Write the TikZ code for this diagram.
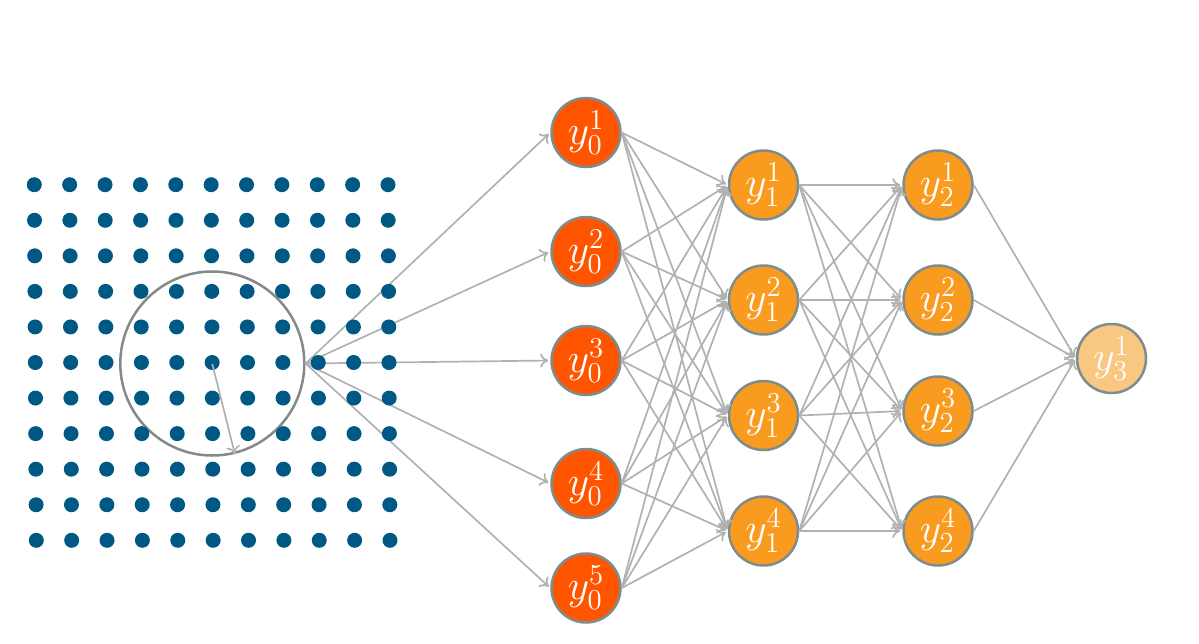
\documentclass[tikz,border=0pt]{standalone}
\usetikzlibrary{arrows.meta}
\definecolor{inputc}{HTML}{FF5500}
\definecolor{hidc}{HTML}{F99B1F}
\definecolor{outc}{HTML}{F8C882}
\definecolor{nodegray}{HTML}{7F8C8D}
\definecolor{edgegray}{HTML}{B0B2B2}
\definecolor{dotblue}{HTML}{005984}
\definecolor{ringgray}{HTML}{838A89}
\tikzset{
  neuron/.style={circle, draw=nodegray, line width=1.25pt, minimum size=34.5pt,
    inner sep=0pt, text=white, font=\huge},
  inl/.style={neuron, fill=inputc},
  hid/.style={neuron, fill=hidc},
  outl/.style={neuron, fill=outc},
  conn/.style={-{To[length=4pt,width=7pt]}, draw=edgegray, line width=0.85pt, shorten >=1pt},
  ring/.style={circle, draw=ringgray, line width=1.25pt, minimum size=92pt, inner sep=0pt},
  dot/.style={fill=dotblue}
}
\begin{document}
\begin{tikzpicture}[x=0.5pt,y=-0.5pt]
\useasboundingbox (0,0) rectangle (1199,643);
% receptive field ring
\node[ring] (rf) at (212.3,363.5) {};
% layer 0
\node[inl] (i1) at (586,132.5) {$y_0^1$};
\node[inl] (i2) at (586,251.5) {$y_0^2$};
\node[inl] (i3) at (586,360.5) {$y_0^3$};
\node[inl] (i4) at (586,483.5) {$y_0^4$};
\node[inl] (i5) at (586,588) {$y_0^5$};
% layer 1
\node[hid] (h1) at (763.5,185) {$y_1^1$};
\node[hid] (h2) at (763.5,300) {$y_1^2$};
\node[hid] (h3) at (763.5,415.5) {$y_1^3$};
\node[hid] (h4) at (763.5,531) {$y_1^4$};
% layer 2
\node[hid] (g1) at (938,185) {$y_2^1$};
\node[hid] (g2) at (938,300) {$y_2^2$};
\node[hid] (g3) at (938,411) {$y_2^3$};
\node[hid] (g4) at (938,531) {$y_2^4$};
% output
\node[outl] (o1) at (1111.5,358.5) {$y_3^1$};
% connectors
\foreach \t in {1,...,5} \draw[conn] (rf.east) -- (i\t.west);
\foreach \s in {1,...,5} \foreach \t in {1,...,4} \draw[conn] (i\s.east) -- (h\t.west);
\foreach \s in {1,...,4} \foreach \t in {1,...,4} \draw[conn] (h\s.east) -- (g\t.west);
\foreach \s in {1,...,4} \draw[conn] (g\s.east) -- (o1.west);
% dot grid
\foreach \i in {0,...,10} \foreach \j in {0,...,10}
  \fill[dot] ({34.3+35.37*\i+0.2*\j},{184.7+35.56*\j}) circle (3.75pt);
% radius arrow
\coordinate (cc) at (212.3,364);
\draw[conn, shorten >=0pt] (cc) -- (rf.-76);
\end{tikzpicture}
\end{document}
